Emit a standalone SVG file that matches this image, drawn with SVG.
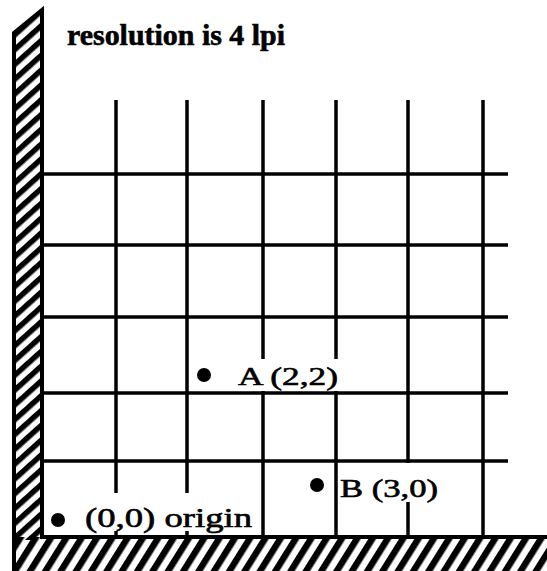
<svg xmlns="http://www.w3.org/2000/svg" width="547" height="571" viewBox="0 0 547 571">
<defs>
<pattern id="hatchL" patternUnits="userSpaceOnUse" width="11" height="11" patternTransform="rotate(48)">
<rect x="0" y="0" width="5.5" height="11" fill="#000"/>
</pattern>
<pattern id="hatchB" patternUnits="userSpaceOnUse" width="13" height="13" patternTransform="rotate(32)">
<rect x="0" y="0" width="6.5" height="13" fill="#000"/>
</pattern>
<style>
.grid line{stroke:#000;stroke-width:3.5;stroke-linecap:butt}
.lbl{font-family:"Liberation Serif","Times New Roman",serif;fill:#000;stroke:#000;stroke-width:0.6}
.dot{fill:#000}
.edge{stroke:#000;stroke-width:4;fill:none}
</style>
</defs>
<rect width="547" height="571" fill="#fff"/>
<g id="walls">
<polygon points="13,33 42,9 42,537 547,537 547,571 13,571" fill="#fff"/>
<polygon points="13,33 42,9 42,540 13,540" fill="url(#hatchL)"/>
<rect x="13" y="537" width="534" height="34" fill="url(#hatchB)"/>
<path class="edge" d="M14,571 L14,33 L42,10 L42,537 L547,537"/>
</g>
<g id="grid" class="grid">
<line x1="42" y1="174" x2="508" y2="174"/>
<line x1="42" y1="245" x2="508" y2="245"/>
<line x1="42" y1="317" x2="508" y2="317"/>
<line x1="42" y1="393" x2="508" y2="393"/>
<line x1="42" y1="461" x2="508" y2="461"/>
<line x1="116" y1="100" x2="116" y2="493"/>
<line x1="116" y1="531" x2="116" y2="537"/>
<line x1="187" y1="100" x2="187" y2="493"/>
<line x1="187" y1="531" x2="187" y2="537"/>
<line x1="263" y1="100" x2="263" y2="359"/>
<line x1="263" y1="391" x2="263" y2="537"/>
<line x1="336" y1="100" x2="336" y2="359"/>
<line x1="336" y1="391" x2="336" y2="537"/>
<line x1="408" y1="100" x2="408" y2="463"/>
<line x1="408" y1="502" x2="408" y2="537"/>
<line x1="483" y1="100" x2="483" y2="537"/>
</g>
<g id="title">
<text class="lbl" x="67" y="45" font-size="30" font-weight="bold" textLength="218" lengthAdjust="spacingAndGlyphs">resolution is 4 lpi</text>
</g>
<g id="pointA">
<circle class="dot" cx="204" cy="375" r="7"/>
<text class="lbl" x="238" y="385" font-size="25" textLength="100" lengthAdjust="spacingAndGlyphs">A (2,2)</text>
</g>
<g id="pointB">
<circle class="dot" cx="317" cy="485" r="7"/>
<text class="lbl" x="340" y="497" font-size="25" textLength="98" lengthAdjust="spacingAndGlyphs">B (3,0)</text>
</g>
<g id="origin">
<circle class="dot" cx="58" cy="520" r="7"/>
<text class="lbl" x="85" y="527" font-size="27" textLength="167" lengthAdjust="spacingAndGlyphs">(0,0) origin</text>
</g>
</svg>
